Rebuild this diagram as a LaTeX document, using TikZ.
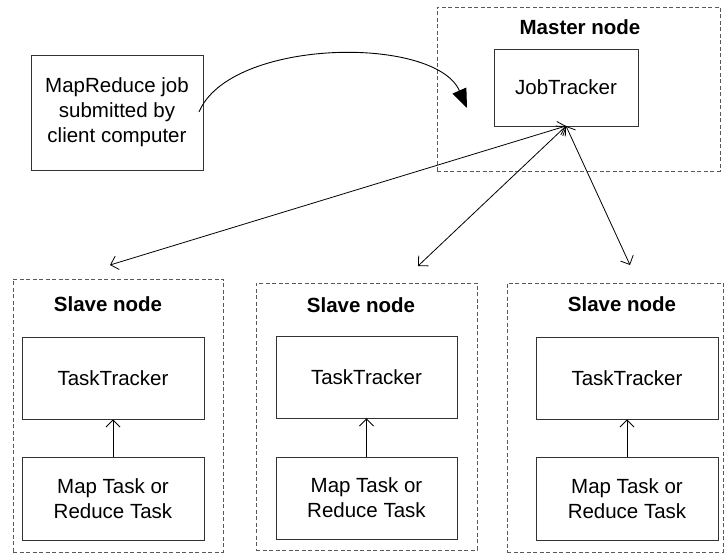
\documentclass[tikz,border=0pt]{standalone}
\usepackage{fontspec}
\setmainfont{Liberation Sans}
\usetikzlibrary{arrows.meta}
\begin{document}
\begin{tikzpicture}[x=1pt,y=-1pt,
  box/.style={draw=black!80, line width=0.9pt, inner sep=0pt, align=center,
    font=\fontsize{20.5}{25}\selectfont},
  group/.style={draw=black!65, line width=0.9pt, dash pattern=on 4pt off 2.5pt, inner sep=0pt},
  title/.style={font=\fontsize{20.5}{25}\selectfont\bfseries, inner sep=0pt},
  barb/.style={line width=0.8pt, {Straight Barb[length=7pt,width=14pt]}-{Straight Barb[length=7pt,width=14pt]}},
  uparrow/.style={line width=0.8pt, -{Straight Barb[length=7pt,width=14pt]}}
]
\useasboundingbox (0,0) rectangle (724,553);

% client
\node[box, minimum width=172pt, minimum height=115pt] (client) at (117,112.5)
  {MapReduce job\\submitted by\\client computer};

% master
\node[group, minimum width=283pt, minimum height=164pt] (master) at (578.5,89) {};
\node[title] (mtitle) at (580,27) {Master node};
\node[box, minimum width=144pt, minimum height=77pt] (jt) at (566,87.5) {JobTracker};

% slaves
\node[group, minimum width=210pt, minimum height=273pt] (s1) at (118,415.5) {};
\node[title] (s1t) at (108,304) {Slave node};
\node[box, minimum width=182pt, minimum height=82pt] (tt1) at (113,378) {TaskTracker};
\node[box, minimum width=182pt, minimum height=83pt] (mt1) at (113,498.5) {Map Task or\\Reduce Task};

\node[group, minimum width=221pt, minimum height=267pt] (s2) at (366.5,416.5) {};
\node[title] (s2t) at (361,305) {Slave node};
\node[box, minimum width=181pt, minimum height=82pt] (tt2) at (366.5,377) {TaskTracker};
\node[box, minimum width=181pt, minimum height=82pt] (mt2) at (366.5,498) {Map Task or\\Reduce Task};

\node[group, minimum width=216pt, minimum height=269pt] (s3) at (615,417.5) {};
\node[title] (s3t) at (622,304) {Slave node};
\node[box, minimum width=182pt, minimum height=82pt] (tt3) at (627,378) {TaskTracker};
\node[box, minimum width=182pt, minimum height=83pt] (mt3) at (627,498.5) {Map Task or\\Reduce Task};

% inner arrows
\draw[uparrow] (mt1.north) -- (tt1.south);
\draw[uparrow] (mt2.north) -- (tt2.south);
\draw[uparrow] (mt3.north) -- (tt3.south);

% job tracker links
\coordinate (hub) at (566,126);
\coordinate (e1) at (110,265);
\coordinate (e2) at (418,266);
\coordinate (e3) at (630,265);
\draw[barb] (hub) -- (e1);
\draw[barb] (hub) -- (e2);
\draw[barb] (hub) -- (e3);

% submission curve
\coordinate (cs) at (199,112);
\coordinate (ce) at (467,108);
\draw[line width=0.9pt, -{Triangle[length=19pt,width=15pt]}]
  (cs) .. controls (230,38) and (435,35) .. (ce);
\end{tikzpicture}
\end{document}
